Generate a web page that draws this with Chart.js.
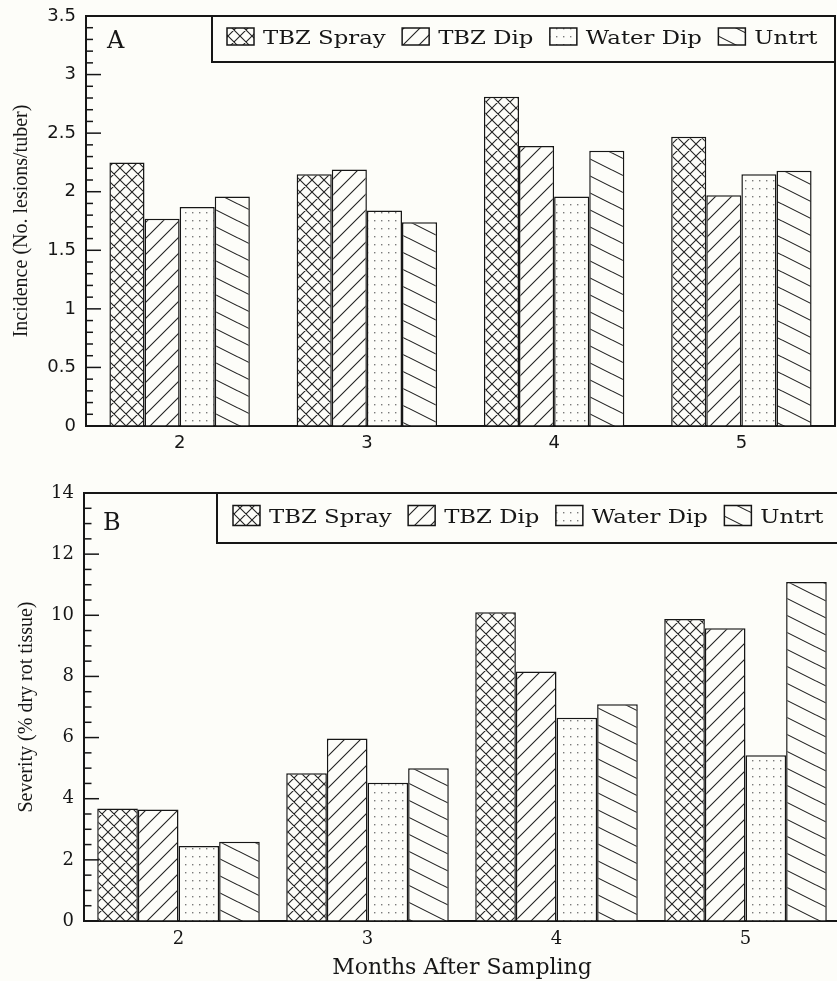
<!DOCTYPE html>
<html>
<head>
<meta charset="utf-8">
<script src="https://cdn.jsdelivr.net/npm/chart.js@4.4.1/dist/chart.umd.min.js"></script>
<style>
  html, body { margin: 0; padding: 0; background: #fdfdf9; overflow: hidden; }
  #wrap { position: relative; width: 837px; height: 981px; overflow: hidden; }
  #chartA { position: absolute; left: 0; top: 0; }
  #chartB { position: absolute; left: 0; top: 460px; }
</style>
</head>
<body>
<div id="wrap">
  <canvas id="chartA" width="837" height="460"></canvas>
  <canvas id="chartB" width="845" height="521"></canvas>
</div>
<script>
var months = ['2', '3', '4', '5'];
var treatments = ['TBZ Spray', 'TBZ Dip', 'Water Dip', 'Untrt'];

// panel A - incidence (no. lesions/tuber)
var incSpray = [2.25, 2.15, 2.81, 2.47];
var incDip   = [1.77, 2.19, 2.39, 1.97];
var incWater = [1.87, 1.84, 1.96, 2.15];
var incUntrt = [1.96, 1.74, 2.35, 2.18];

// panel B - severity (% dry rot tissue)
var sevSpray = [3.68, 4.83, 10.1, 9.88];
var sevDip   = [3.65, 5.97, 8.16, 9.58];
var sevWater = [2.45, 4.52, 6.65, 5.42];
var sevUntrt = [2.59, 5.0, 7.09, 11.09];

var paper = '#fdfdf9';
var ink = '#161616';

function makePattern(kind) {
  var c = document.createElement('canvas');
  var w = 12, h = 12;
  if (kind == 'slash') { w = 16; h = 16; }
  if (kind == 'back') { w = 34; h = 17; }
  if (kind == 'dots') { w = 7; h = 8; }
  c.width = w; c.height = h;
  var ctx = c.getContext('2d');
  ctx.fillStyle = paper;
  ctx.fillRect(0, 0, w, h);
  ctx.strokeStyle = '#222';
  ctx.lineWidth = 1.1;
  ctx.beginPath();
  if (kind == 'cross') {
    for (var k = -1; k <= 1; k++) {
      ctx.moveTo(k * w - 1, -1); ctx.lineTo(k * w + w + 1, h + 1);
      ctx.moveTo(k * w - 1, h + 1); ctx.lineTo(k * w + w + 1, -1);
    }
  } else if (kind == 'slash') {
    for (var k = -1; k <= 2; k++) {
      ctx.moveTo(-1, k * h + 1); ctx.lineTo(w + 1, k * h - h - 1);
    }
  } else if (kind == 'back') {
    for (var k = -1; k <= 1; k++) {
      ctx.moveTo(-2, k * h - 1); ctx.lineTo(w + 2, k * h + h + 1);
    }
  }
  ctx.stroke();
  if (kind == 'dots') {
    ctx.fillStyle = '#7a7a7a';
    ctx.fillRect(3, 4, 1.4, 1.4);
  }
  return ctx.createPattern(c, 'repeat');
}

var patterns = [makePattern('cross'), makePattern('slash'), makePattern('dots'), makePattern('back')];

// draws the box top/right, inward tick marks, panel letter and the boxed legend
var framePlugin = {
  id: 'frame',
  afterDraw: function(chart, args, opts) {
    var ctx = chart.ctx, area = chart.chartArea;
    var y = chart.scales.y;
    ctx.save();
    ctx.strokeStyle = ink;
    ctx.lineWidth = 1.5;
    var n = Math.round((y.max - y.min) / opts.minorStep);
    for (var i = 0; i <= n; i++) {
      var v = y.min + i * opts.minorStep;
      var py = y.getPixelForValue(v);
      var r = v / opts.majorStep;
      var len = Math.abs(r - Math.round(r)) < 1e-6 ? opts.majorLen : opts.minorLen;
      ctx.beginPath();
      ctx.moveTo(area.left, py);
      ctx.lineTo(area.left + len, py);
      ctx.stroke();
    }

    ctx.lineWidth = 2;
    ctx.beginPath();
    ctx.moveTo(area.left, area.top);
    ctx.lineTo(area.right, area.top);
    ctx.lineTo(area.right, area.bottom);
    ctx.stroke();

    ctx.fillStyle = ink;
    ctx.font = opts.letterFont;
    ctx.textBaseline = 'alphabetic';
    ctx.fillText(opts.letter, area.left + opts.letterX, area.top + opts.letterY);

    // legend
    var bx = opts.legendLeft, by = area.top, bh = opts.legendHeight;
    ctx.lineWidth = 2;
    ctx.strokeRect(bx, by, area.right - bx, bh);
    var x = bx + opts.legendInset;
    ctx.font = opts.legendFont;
    chart.data.datasets.forEach(function(ds) {
      var sy = by + bh / 2 - opts.swatchH / 2 - 2.5;
      ctx.fillStyle = ds.backgroundColor;
      ctx.fillRect(x, sy, opts.swatchW, opts.swatchH);
      ctx.lineWidth = 1.5;
      ctx.strokeRect(x, sy, opts.swatchW, opts.swatchH);
      x += opts.swatchW + 9;
      ctx.save();
      ctx.translate(x, by + bh / 2 + 5);
      ctx.scale(opts.stretch, 1);
      ctx.fillStyle = ink;
      ctx.fillText(ds.label, 0, 0);
      ctx.restore();
      x += ctx.measureText(ds.label).width * opts.stretch + 16.5;
    });
    ctx.restore();
  }
};

function makeDatasets(series, catPct) {
  return series.map(function(vals, i) {
    return {
      label: treatments[i],
      data: vals,
      backgroundColor: patterns[i],
      borderColor: ink,
      borderWidth: 1.5,
      barPercentage: 1,
      categoryPercentage: catPct
    };
  });
}

function makeChart(id, cfg) {
  return new Chart(document.getElementById(id), {
    type: 'bar',
    data: { labels: months, datasets: makeDatasets(cfg.series, cfg.catPct) },
    plugins: [framePlugin],
    options: {
      responsive: false,
      animation: false,
      layout: { padding: cfg.padding },
      plugins: {
        legend: { display: false },
        tooltip: { enabled: false },
        frame: cfg.frame
      },
      scales: {
        x: {
          grid: { display: true, drawOnChartArea: false, drawTicks: false },
          border: { display: true, color: ink, width: 2 },
          ticks: { color: ink, font: cfg.tickFont, padding: cfg.xPad },
          title: cfg.xTitle,
          afterFit: function(s) { s.height = cfg.xHeight; }
        },
        y: {
          min: 0, max: cfg.yMax,
          grid: { display: true, drawOnChartArea: false, drawTicks: false },
          border: { display: true, color: ink, width: 2 },
          ticks: {
            stepSize: cfg.yStep, color: ink, font: cfg.tickFont, padding: 10,
            callback: function(v) { return String(+v.toFixed(2)); }
          },
          title: {
            display: true, text: cfg.yTitle, color: ink,
            font: { family: 'Liberation Serif', size: 20 },
            padding: { top: cfg.yTitlePad, bottom: 0 }
          },
          afterFit: function(s) {
            s.width = cfg.yWidth;
            s.paddingTop = 0;
            s.paddingBottom = 0;
          }
        }
      }
    }
  });
}

makeChart('chartA', {
  series: [incSpray, incDip, incWater, incUntrt],
  catPct: 0.75,
  padding: { top: 16, right: 2, left: 0, bottom: 0 },
  yMax: 3.5, yStep: 0.5,
  yTitle: 'Incidence (No. lesions/tuber)', yTitlePad: 10,
  yWidth: 86, xHeight: 34, xPad: 7,
  tickFont: { family: 'DejaVu Sans', size: 18 },
  xTitle: { display: false },
  frame: {
    minorStep: 0.1, majorStep: 0.5, majorLen: 15, minorLen: 7,
    letter: 'A', letterFont: '24px "DejaVu Serif"', letterX: 21, letterY: 32,
    legendLeft: 212, legendHeight: 46, legendInset: 15, swatchW: 27, swatchH: 17,
    legendFont: '19px "DejaVu Serif"', stretch: 1.2
  }
});

makeChart('chartB', {
  series: [sevSpray, sevDip, sevWater, sevUntrt],
  catPct: 0.86,
  padding: { top: 33, right: 5, left: 0, bottom: 0 },
  yMax: 14, yStep: 2,
  yTitle: 'Severity (% dry rot tissue)', yTitlePad: 15,
  yWidth: 84, xHeight: 60, xPad: 8,
  tickFont: { family: 'DejaVu Serif', size: 18 },
  xTitle: {
    display: true, text: 'Months After Sampling', color: ink,
    font: { family: 'DejaVu Serif', size: 22 },
    padding: { top: 0, bottom: 0 }
  },
  frame: {
    minorStep: 0.5, majorStep: 2, majorLen: 15, minorLen: 7.5,
    letter: 'B', letterFont: '24px "DejaVu Serif"', letterX: 19, letterY: 37,
    legendLeft: 217, legendHeight: 50, legendInset: 16, swatchW: 27, swatchH: 20,
    legendFont: '19px "DejaVu Serif"', stretch: 1.2
  }
});
</script>
</body>
</html>
